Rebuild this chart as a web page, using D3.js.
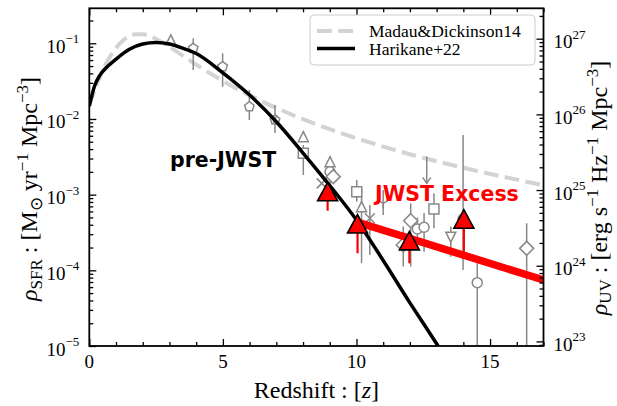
<!DOCTYPE html>
<html>
<head>
<meta charset="utf-8">
<script src="https://cdn.jsdelivr.net/npm/d3@7"></script>
<style>
  body { margin: 0; background: #fff; }
  svg { display: block; }
</style>
</head>
<body>
<div id="chart"></div>
<script>
// ---- values ----
const zTicks = [0, 5, 10, 15];
const sfrTicks = [1e-5, 1e-4, 1e-3, 1e-2, 1e-1];
const sfrTickExp = ['−5', '−4', '−3', '−2', '−1'];
const uvTicks = [1e23, 1e24, 1e25, 1e26, 1e27];
const uvTickExp = ['23', '24', '25', '26', '27'];
const KAPPA_UV = 1.15e-28; // rho_SFR = KAPPA_UV * rho_UV

// Madau & Dickinson 14 (dashed grey)
const mdZ   = [0, 0.25, 0.5, 0.75, 1, 1.25, 1.5, 1.75, 2, 2.5, 3, 4, 5, 6, 7, 8, 9, 10, 12, 14, 17];
const mdSFR = [0.0150, 0.0272, 0.0438, 0.0642, 0.0867, 0.108, 0.124, 0.132, 0.132, 0.114, 0.0897,
               0.0523, 0.0318, 0.0205, 0.0140, 0.00994, 0.00733, 0.00556, 0.00342, 0.00227, 0.00133];

// Harikane+22 (black)
const hkZ   = [0, 0.2, 0.4, 0.7, 1, 1.5, 2, 2.5, 3, 3.5, 4, 5, 6, 7, 8, 9, 10, 11, 12, 13, 13.2];
const hkSFR = [0.0148, 0.0275, 0.0380, 0.0501, 0.0617, 0.0832, 0.0977, 0.1023, 0.0977, 0.0861, 0.0733,
               0.0407, 0.0207, 0.0092, 0.00355, 0.00132, 4.62e-4, 1.35e-4, 3.72e-5, 1.07e-5, 8.3e-6];

// JWST excess (red line)
const excessZ   = [10, 17];
const excessSFR = [4.37e-4, 7.45e-5];

// JWST points (red triangles, lower error only)
const jwstZ   = [8.92, 10.04, 11.98, 14.02];
const jwstSFR = [1.09e-3, 4.09e-4, 2.45e-4, 4.74e-4];
const jwstLo  = [6.14e-4, 1.68e-4, 1.24e-4, 1.76e-4];

// pre-JWST / literature compilation (grey open markers)
const obsZ    = [3.05, 3.89, 4.99, 5.99, 6.95, 6.9, 8.01, 8.01, 9.01, 9.01, 9.13, 8.70, 10.01, 10.01,
                 10.19, 10.5, 11.0, 11.75, 12.03, 12.28, 12.53, 12.9, 13.53, 13.99, 14.52, 16.37];
const obsSFR  = [0.111, 0.0859, 0.0491, 0.01452, 0.0097, 0.0102, 0.00583, 0.00352, 0.00273, 0.00201, 0.00173, 0.00141,
                 0.00109, 0.00109, 6.93e-4, 4.88e-4, 7.69e-4, 2.16e-4, 4.53e-4, 3.52e-4, 3.71e-4, 6.47e-4, 2.74e-4,
                 4.76e-4, 6.87e-5, 1.95e-4];
const obsLo   = [0.0951, 0.0444, 0.0267, 0.0097, 0.00653, null, null, 0.00182, null, 0.00094, null, null,
                 8.07e-4, null, 1.25e-4, 1.6e-4, 5.4e-4, 1.12e-4, 1.12e-4, 2.0e-4, 1.76e-4, 3.59e-4, 1.51e-4,
                 1.01e-4, 5e-6, 5e-6];
const obsHi   = [0.122, 0.1164, 0.0738, 0.0242, 0.0153, null, null, 0.00453, null, 0.00318, null, null,
                 0.00156, null, 9.91e-4, 7.3e-4, 1.15e-3, 3.78e-4, 7.69e-4, 5.0e-4, 5.73e-4, 1.04e-3, 3.78e-4,
                 6.14e-3, 1.24e-4, 4.19e-4];
const obsMarker = ['^', 'p', 'p', 'p', 'p', '1', '^', 's', '^', 'o', 'D', 'x', 'o', 's',
                   '^', 'x', '1', 'D', 'D', 'o', 'o', 's', 'v', 'o', 'o', 'D'];

// upper limit (arrow)
const ulZ   = [12.63];
const ulSFR = [3.18e-3];
const ulTip = [1.41e-3];

// ---- layout ----
const W = 617, H = 406;
const M = { l: 89.3, r: 543.5, t: 8.3, b: 346 };
const GREY = '#888888';

const svg = d3.select('#chart').append('svg')
  .attr('width', W).attr('height', H)
  .style('font-family', '"Liberation Serif", "Times New Roman", serif');

const x = d3.scaleLinear().domain([0, 17]).range([M.l, M.r]);
const y = d3.scaleLog().domain([1e-5, 0.29]).range([M.b, M.t]);
const yUV = d3.scaleLog().domain([1e-5 / KAPPA_UV, 0.29 / KAPPA_UV]).range([M.b, M.t]);

svg.append('defs').append('clipPath').attr('id', 'plotclip')
  .append('rect').attr('x', M.l).attr('y', M.t).attr('width', M.r - M.l).attr('height', M.b - M.t);

const plot = svg.append('g').attr('clip-path', 'url(#plotclip)');

// marker shapes (matplotlib-like), s = half size
function markerPath(type, s) {
  switch (type) {
    case 'o': return `M${s},0A${s},${s} 0 1,1 ${-s},0A${s},${s} 0 1,1 ${s},0Z`;
    case 's': return `M${-s},${-s}H${s}V${s}H${-s}Z`;
    case 'D': { const d = s * 1.4; return `M0,${-d}L${d},0L0,${d}L${-d},0Z`; }
    case '^': return `M0,${-s}L${s},${s}L${-s},${s}Z`;
    case 'v': return `M0,${s}L${s},${-s}L${-s},${-s}Z`;
    case 'x': return `M${-s},${-s}L${s},${s}M${-s},${s}L${s},${-s}`;
    case '1': return `M0,0L0,${s}M0,0L${-s * 0.87},${-s * 0.5}M0,0L${s * 0.87},${-s * 0.5}`;
    case 'p': {
      const pts = d3.range(5).map(k => {
        const a = -Math.PI / 2 + k * 2 * Math.PI / 5;
        return [s * Math.cos(a), s * Math.sin(a)];
      });
      return 'M' + pts.map(p => p.join(',')).join('L') + 'Z';
    }
  }
  return '';
}

// Madau & Dickinson dashed curve
const lineMD = d3.line().x((d, i) => x(mdZ[i])).y(d => y(d)).curve(d3.curveMonotoneX);
plot.append('path').datum(mdSFR)
  .attr('d', lineMD)
  .attr('fill', 'none').attr('stroke', '#d3d3d3').attr('stroke-width', 4)
  .attr('stroke-dasharray', '14.8,6.4');

// grey literature points
const obs = obsZ.map((z, i) => ({ z, v: obsSFR[i], lo: obsLo[i], hi: obsHi[i], m: obsMarker[i] }));
const og = plot.append('g').attr('stroke', GREY).attr('stroke-width', 1.5).attr('fill', 'none');
og.selectAll('line.err').data(obs.filter(d => d.lo !== null)).join('line')
  .attr('class', 'err')
  .attr('x1', d => x(d.z)).attr('x2', d => x(d.z))
  .attr('y1', d => y(d.lo)).attr('y2', d => y(d.hi));
og.selectAll('path.mk').data(obs).join('path')
  .attr('class', 'mk')
  .attr('transform', d => `translate(${x(d.z)},${y(d.v)})`)
  .attr('d', d => markerPath(d.m, 5))
  .attr('fill', d => (d.m === 'x' || d.m === '1') ? 'none' : '#fff');

// upper limit arrow
const ul = ulZ.map((z, i) => ({ z, v: ulSFR[i], tip: ulTip[i] }));
og.selectAll('line.ul').data(ul).join('line')
  .attr('class', 'ul')
  .attr('x1', d => x(d.z)).attr('x2', d => x(d.z))
  .attr('y1', d => y(d.v)).attr('y2', d => y(d.tip));
og.selectAll('path.ulhead').data(ul).join('path')
  .attr('class', 'ulhead')
  .attr('d', d => `M${x(d.z) - 4},${y(d.tip) - 6}L${x(d.z)},${y(d.tip)}L${x(d.z) + 4},${y(d.tip) - 6}`);

// Harikane+22 black curve
const lineHK = d3.line().x((d, i) => x(hkZ[i])).y(d => y(d)).curve(d3.curveMonotoneX);
plot.append('path').datum(hkSFR)
  .attr('d', lineHK)
  .attr('fill', 'none').attr('stroke', '#000').attr('stroke-width', 3.5);

// JWST excess red line
plot.append('path').datum(excessSFR)
  .attr('d', d3.line().x((d, i) => x(excessZ[i])).y(d => y(d)))
  .attr('fill', 'none').attr('stroke', '#ff0000').attr('stroke-width', 7.5);

// JWST triangles
const jw = jwstZ.map((z, i) => ({ z, v: jwstSFR[i], lo: jwstLo[i] }));
plot.append('g').selectAll('line').data(jw).join('line')
  .attr('x1', d => x(d.z)).attr('x2', d => x(d.z))
  .attr('y1', d => y(d.v)).attr('y2', d => y(d.lo))
  .attr('stroke', '#ff0000').attr('stroke-width', 2.2);
plot.append('g').selectAll('path').data(jw).join('path')
  .attr('transform', d => `translate(${x(d.z)},${y(d.v)})`)
  .attr('d', 'M0,-9.5L10,9L-10,9Z')
  .attr('fill', '#ff0000').attr('stroke', '#000').attr('stroke-width', 1.6)
  .attr('stroke-linejoin', 'miter');

// annotations
svg.append('text').attr('x', 170).attr('y', 167)
  .attr('font-family', '"DejaVu Sans", sans-serif').attr('font-weight', 'bold')
  .attr('font-size', 20.5).attr('fill', '#000').text('pre-JWST');
svg.append('text').attr('x', 375).attr('y', 201)
  .attr('font-family', '"DejaVu Sans", sans-serif').attr('font-weight', 'bold')
  .attr('font-size', 20.5).attr('fill', '#ff0000').text('JWST Excess');

// ---- axes: inward ticks ----
function minorLog(scale) {
  const [a, b] = scale.domain();
  const out = [];
  for (let e = Math.floor(Math.log10(a)); e <= Math.ceil(Math.log10(b)); e++) {
    for (let k = 2; k <= 9; k++) {
      const v = k * Math.pow(10, e);
      if (v > a && v < b) out.push(v);
    }
  }
  return out;
}
const xMinor = d3.range(0, 18).filter(v => v % 5 !== 0);

function tickAxis(axisFn, scale, values, size, tr) {
  const g = svg.append('g').attr('transform', tr)
    .call(axisFn(scale).tickValues(values).tickSizeInner(-size).tickSizeOuter(0).tickFormat(''));
  g.select('.domain').remove();
  g.selectAll('line').attr('stroke-width', 1.3);
  return g;
}
tickAxis(d3.axisBottom, x, zTicks, 7, `translate(0,${M.b})`);
tickAxis(d3.axisBottom, x, xMinor, 4, `translate(0,${M.b})`);
tickAxis(d3.axisTop, x, zTicks, 7, `translate(0,${M.t})`);
tickAxis(d3.axisTop, x, xMinor, 4, `translate(0,${M.t})`);
tickAxis(d3.axisLeft, y, sfrTicks, 7, `translate(${M.l},0)`);
tickAxis(d3.axisLeft, y, minorLog(y), 4, `translate(${M.l},0)`);
tickAxis(d3.axisRight, yUV, uvTicks, 7, `translate(${M.r},0)`);
tickAxis(d3.axisRight, yUV, minorLog(yUV), 4, `translate(${M.r},0)`);

// frame
svg.append('rect').attr('x', M.l).attr('y', M.t)
  .attr('width', M.r - M.l).attr('height', M.b - M.t)
  .attr('fill', 'none').attr('stroke', '#000').attr('stroke-width', 1.8);

// x tick labels
svg.append('g').selectAll('text').data(zTicks).join('text')
  .attr('x', d => x(d)).attr('y', M.b + 22)
  .attr('text-anchor', 'middle').attr('font-size', 19).text(d => d);

// y tick labels (left)
const yl = svg.append('g').selectAll('text').data(sfrTicks).join('text')
  .attr('x', M.l - 10).attr('y', d => y(d) + 9.5)
  .attr('text-anchor', 'end').attr('font-size', 19);
yl.append('tspan').text('10');
yl.append('tspan').attr('dy', -9.5).attr('font-size', 13).text((d, i) => sfrTickExp[i]);

// y tick labels (right)
const yr = svg.append('g').selectAll('text').data(uvTicks).join('text')
  .attr('x', M.r + 10).attr('y', d => yUV(d) + 9.5)
  .attr('font-size', 19);
yr.append('tspan').text('10');
yr.append('tspan').attr('dy', -9.5).attr('font-size', 13).text((d, i) => uvTickExp[i]);

// axis titles
const xt = svg.append('text').attr('x', (M.l + M.r) / 2).attr('y', 398)
  .attr('text-anchor', 'middle').attr('font-size', 24);
xt.append('tspan').text('Redshift : [');
xt.append('tspan').attr('font-style', 'italic').text('z');
xt.append('tspan').text(']');

function mathLabel(tr, parts) {
  const t = svg.append('text').attr('transform', tr)
    .attr('text-anchor', 'middle').attr('font-size', 24);
  parts.forEach(p => {
    const s = t.append('tspan').text(p.t);
    if (p.dy) s.attr('dy', p.dy);
    if (p.fs) s.attr('font-size', p.fs);
    if (p.it) s.attr('font-style', 'italic');
  });
}
mathLabel('translate(37,189) rotate(-90)', [
  { t: 'ρ', it: true },
  { t: 'SFR', fs: 17, dy: 5 },
  { t: ' : [M', dy: -5 },
  { t: '⊙', fs: 17, dy: 5 },
  { t: ' yr', dy: -5 },
  { t: '−1', fs: 17, dy: -9 },
  { t: ' Mpc', dy: 9 },
  { t: '−3', fs: 17, dy: -9 },
  { t: ']', dy: 9 }
]);
mathLabel('translate(607,188) rotate(-90)', [
  { t: 'ρ', it: true },
  { t: 'UV', fs: 17, dy: 4 },
  { t: ' : [erg s', dy: -4 },
  { t: '−1', fs: 17, dy: -9 },
  { t: ' Hz', dy: 9 },
  { t: '−1', fs: 17, dy: -9 },
  { t: ' Mpc', dy: 9 },
  { t: '−3', fs: 17, dy: -9 },
  { t: ']', dy: 9 }
]);

// legend
const lg = svg.append('g');
lg.append('rect').attr('x', 310).attr('y', 15).attr('width', 225).attr('height', 50)
  .attr('rx', 4).attr('fill', '#fff').attr('fill-opacity', 0.8)
  .attr('stroke', '#cccccc').attr('stroke-width', 1);
const legendItems = [
  { label: 'Madau&Dickinson14', color: '#d3d3d3', dash: '14.8,6.4', w: 4 },
  { label: 'Harikane+22', color: '#000', dash: null, w: 3.5 }
];
legendItems.forEach((it, i) => {
  const yy = 31 + i * 17.5;
  lg.append('line').attr('x1', 317).attr('x2', 355).attr('y1', yy).attr('y2', yy)
    .attr('stroke', it.color).attr('stroke-width', it.w)
    .attr('stroke-dasharray', it.dash);
  lg.append('text').attr('x', 369).attr('y', yy + 6).attr('font-size', 17.5).text(it.label);
});
</script>
</body>
</html>
